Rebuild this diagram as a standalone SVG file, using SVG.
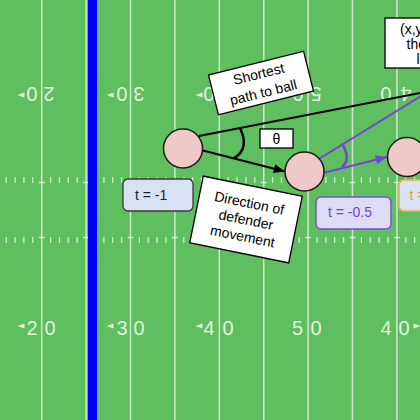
<svg xmlns="http://www.w3.org/2000/svg" width="420" height="420" viewBox="0 0 420 420">
<style>
.yl{stroke:#ffffff;stroke-opacity:.65;stroke-width:1.6;fill:none}
.tick{stroke:#ffffff;stroke-opacity:.7;stroke-width:1.3;fill:none}
.num{font-family:"Liberation Sans",Arial,sans-serif;font-size:20px;fill:#f2faf2;fill-opacity:.9;text-anchor:middle}
.arr{fill:#f2faf2;fill-opacity:.9}
.lbl{font-family:"Liberation Sans",Arial,sans-serif;font-size:14px;fill:#000;text-anchor:middle}
.box{fill:#ffffff;stroke:#000;stroke-width:1.3}
.pl{fill:#efc9c6;stroke:#1a1a1a;stroke-width:1.5}
.blk{stroke:#000;stroke-width:2;fill:none}
.pur{stroke:#7443d9;stroke-width:2;fill:none}
</style>
<defs>
<marker id="ahb" viewBox="0 0 10 8" refX="10" refY="4" markerWidth="12" markerHeight="9" markerUnits="userSpaceOnUse" orient="auto"><path d="M0,0 L10,4 L0,8 z" fill="#000"/></marker>
<marker id="ahp" viewBox="0 0 10 8" refX="10" refY="4" markerWidth="12" markerHeight="9" markerUnits="userSpaceOnUse" orient="auto"><path d="M0,0 L10,4 L0,8 z" fill="#7443d9"/></marker>
</defs>
<g id="field">
<rect x="0" y="0" width="420" height="420" fill="#5fbe5f"/>
<path class="yl" d="M41.7 0V420M86.1 0V420M130.5 0V420M174.9 0V420M219.3 0V420M263.7 0V420M308.1 0V420M352.5 0V420M396.9 0V420"/>
<path class="tick" d="M6.2 177v6M15.1 177v6M23.9 177v6M32.8 177v6M50.6 177v6M59.5 177v6M68.3 177v6M77.2 177v6M95 177v6M103.9 177v6M112.7 177v6M121.6 177v6M139.4 177v6M148.3 177v6M157.1 177v6M166 177v6M183.8 177v6M192.7 177v6M201.5 177v6M210.4 177v6M228.2 177v6M237.1 177v6M245.9 177v6M254.8 177v6M272.6 177v6M281.5 177v6M290.3 177v6M299.2 177v6M317 177v6M325.9 177v6M334.7 177v6M343.6 177v6M361.4 177v6M370.3 177v6M379.1 177v6M388 177v6M405.8 177v6M414.7 177v6
M6.2 237v6M15.1 237v6M23.9 237v6M32.8 237v6M50.6 237v6M59.5 237v6M68.3 237v6M77.2 237v6M95 237v6M103.9 237v6M112.7 237v6M121.6 237v6M139.4 237v6M148.3 237v6M157.1 237v6M166 237v6M183.8 237v6M192.7 237v6M201.5 237v6M210.4 237v6M228.2 237v6M237.1 237v6M245.9 237v6M254.8 237v6M272.6 237v6M281.5 237v6M290.3 237v6M299.2 237v6M317 237v6M325.9 237v6M334.7 237v6M343.6 237v6M361.4 237v6M370.3 237v6M379.1 237v6M388 237v6M405.8 237v6M414.7 237v6
M38.7 182.5h6M83.1 182.5h6M127.5 182.5h6M171.9 182.5h6M216.3 182.5h6M260.7 182.5h6M305.1 182.5h6M349.5 182.5h6M393.9 182.5h6
M38.7 237.5h6M83.1 237.5h6M127.5 237.5h6M171.9 237.5h6M216.3 237.5h6M260.7 237.5h6M305.1 237.5h6M349.5 237.5h6M393.9 237.5h6"/>
<rect x="88" y="0" width="9" height="420" fill="#0000ff"/>
<!-- bottom numbers -->
<text class="num" x="32" y="335">2</text><text class="num" x="50" y="335">0</text><path class="arr" d="M17.5 326l7-2.5v5z"/>
<text class="num" x="122" y="335">3</text><text class="num" x="139" y="335">0</text><path class="arr" d="M106.5 326l7-2.5v5z"/>
<text class="num" x="209" y="335">4</text><text class="num" x="228" y="335">0</text><path class="arr" d="M195.5 326l7-2.5v5z"/>
<text class="num" x="297.5" y="335">5</text><text class="num" x="316" y="335">0</text>
<text class="num" x="386" y="335">4</text><text class="num" x="404" y="335">0</text><path class="arr" d="M420.5 326l-7-2.5v5z"/>
<!-- top numbers (upside down) -->
<text class="num" x="32" y="101" transform="rotate(180 32 94)">0</text><text class="num" x="49" y="101" transform="rotate(180 49 94)">2</text><path class="arr" d="M17.5 95l7-2.5v5z"/>
<text class="num" x="122" y="101" transform="rotate(180 122 94)">0</text><text class="num" x="139" y="101" transform="rotate(180 139 94)">3</text><path class="arr" d="M106.5 95l7-2.5v5z"/>
<text class="num" x="209" y="101" transform="rotate(180 209 94)">0</text><text class="num" x="228" y="101" transform="rotate(180 228 94)">4</text><path class="arr" d="M195.5 95l7-2.5v5z"/>
<text class="num" x="298" y="101" transform="rotate(180 298 94)">0</text><text class="num" x="316" y="101" transform="rotate(180 316 94)">5</text>
<text class="num" x="386" y="101" transform="rotate(180 386 94)">0</text><text class="num" x="406" y="101" transform="rotate(180 406 94)">4</text>
</g>
<g id="connectors">
<line class="blk" x1="199" y1="136" x2="425" y2="92"/>
<line class="blk" x1="201" y1="150" x2="285" y2="171.5" marker-end="url(#ahb)"/>
<path d="M240 128Q250 149 234 158" stroke="#000" stroke-width="2.5" fill="none"/>
<line class="pur" x1="318" y1="159.5" x2="425" y2="93.5"/>
<line class="pur" x1="323" y1="173" x2="387" y2="157" marker-end="url(#ahp)"/>
<path d="M343 145Q351 160 342 167" stroke="#7443d9" stroke-width="2.5" fill="none"/>
</g>
<g id="ball-label">
<rect class="box" x="385" y="18" width="80" height="50"/>
<text font-family="Liberation Sans, Arial, sans-serif" font-size="14" x="400" y="34">(x,y) where</text>
<text font-family="Liberation Sans, Arial, sans-serif" font-size="14" x="406.5" y="49">the ball</text>
<text font-family="Liberation Sans, Arial, sans-serif" font-size="14" x="416.5" y="64">lands</text>
</g>
<g id="shortest-label" transform="translate(261 83) rotate(-14)">
<rect class="box" x="-49" y="-20.5" width="98" height="41"/>
<text class="lbl" x="0" y="-4.5">Shortest</text>
<text class="lbl" x="0" y="14.5">path to ball</text>
</g>
<g id="theta-label">
<rect class="box" x="260" y="129" width="33" height="19"/>
<text class="lbl" x="276.5" y="144">θ</text>
</g>
<g id="defender-t-1"><circle class="pl" cx="183" cy="148.5" r="19.5"/></g>
<g id="defender-t-05"><circle class="pl" cx="304.5" cy="171.5" r="19.5"/></g>
<g id="defender-t0"><circle class="pl" cx="407" cy="157" r="19.5"/></g>
<g id="direction-label" transform="translate(246 219.5) rotate(11.5)">
<rect class="box" x="-50.5" y="-34" width="101" height="68"/>
<text class="lbl" x="0" y="-12">Direction of</text>
<text class="lbl" x="0" y="5">defender</text>
<text class="lbl" x="0" y="22">movement</text>
</g>
<g id="t-1">
<rect x="123" y="179" width="70" height="32" rx="5" fill="#d9e2f2" stroke="#3a3a3a" stroke-width="1.3"/>
<text font-family="Liberation Sans, Arial, sans-serif" font-size="14" x="135" y="200" fill="#222">t = -1</text>
</g>
<g id="t-05">
<rect x="316" y="197" width="75" height="32" rx="5" fill="#dcdcf4" stroke="#7a4fd6" stroke-width="1.5"/>
<text font-family="Liberation Sans, Arial, sans-serif" font-size="14" x="328" y="217" fill="#7a3fd0">t = -0.5</text>
</g>
<g id="t0">
<rect x="399" y="180" width="60" height="31" rx="5" fill="#dae3f3" stroke="#f0b050" stroke-width="1.5"/>
<text font-family="Liberation Sans, Arial, sans-serif" font-size="14" x="409.5" y="200" fill="#e8a040">t = 0</text>
</g>
</svg>
